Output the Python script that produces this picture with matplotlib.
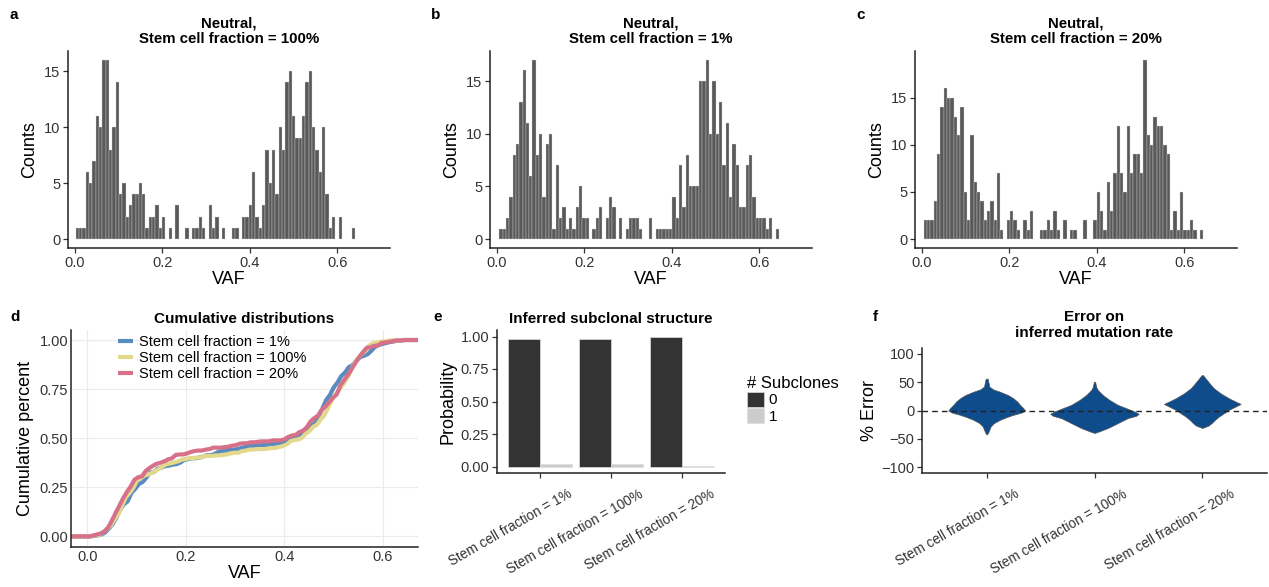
import numpy as np
import matplotlib
matplotlib.use("Agg")
import matplotlib.pyplot as plt
from matplotlib.transforms import ScaledTranslation

plt.rcParams['font.family'] = ['Liberation Sans', 'DejaVu Sans']

W, H = 1269, 587

bin_width = 0.0076
start_100 = 0.0023
start_1 = 0.006
start_20 = 0.0046
counts_100 = [1, 1, 1, 6, 5, 7, 11, 10, 16, 16, 8, 10, 14, 4, 5, 2, 3, 4, 4, 5,
              4, 1, 2, 2, 3, 1, 2, 0, 1, 0, 3, 0, 0, 1, 0, 1, 1, 2, 1, 0,
              3, 1, 2, 0, 1, 0, 0, 1, 1, 0, 2, 2, 3, 6, 2, 1, 3, 8, 5, 8,
              4, 10, 8, 14, 15, 11, 9, 9, 11, 14, 15, 10, 8, 6, 10, 4, 1, 2, 0, 2,
              0, 0, 0, 1]
counts_1 = [1, 1, 2, 4, 8, 9, 13, 16, 11, 6, 17, 8, 10, 4, 9, 10, 1, 7, 2, 3,
            1, 2, 1, 3, 5, 2, 2, 0, 1, 2, 3, 0, 2, 4, 3, 0, 2, 0, 1, 2,
            2, 2, 1, 0, 0, 2, 0, 1, 1, 1, 1, 1, 4, 2, 7, 3, 8, 5, 5, 5,
            15, 15, 17, 10, 15, 10, 13, 7, 11, 4, 9, 7, 3, 3, 7, 8, 4, 2, 2, 2,
            1, 2, 0, 1]
counts_20 = [2, 2, 2, 4, 9, 14, 16, 15, 15, 13, 11, 14, 5, 2, 11, 6, 5, 4, 2, 3,
             4, 2, 7, 1, 0, 2, 3, 2, 1, 0, 2, 1, 3, 0, 0, 1, 1, 2, 1, 3,
             1, 0, 2, 0, 1, 1, 0, 0, 2, 0, 0, 2, 5, 3, 1, 6, 3, 7, 12, 7,
             5, 12, 7, 9, 9, 7, 19, 11, 10, 13, 12, 12, 10, 9, 1, 3, 1, 5, 1, 1,
             2, 1, 0, 1]

conditions = ["Stem cell fraction = 1%", "Stem cell fraction = 100%", "Stem cell fraction = 20%"]
ecdf_colors = ["#5a8bbf", "#e3d98c", "#d7718a"]

# panel e
prob_0 = [0.98, 0.98, 0.995]
prob_1 = [0.02, 0.02, 0.005]

# panel f: violin outlines (% error, half width in category units)
viol_1_y = [56, 51, 42, 37, 33, 27, 21.5, 15.7, 9.9, 4.1, 0, -3.5, -7.6, -11.6, -16.3, -22.1, -27.9, -33.7, -39.5, -42.4]
viol_1_w = [0.009, 0.015, 0.025, 0.062, 0.124, 0.2, 0.247, 0.284, 0.309, 0.34, 0.356, 0.325, 0.247, 0.186, 0.124, 0.068, 0.037, 0.025, 0.012, 0]
viol_100_y = [50.6, 41.9, 36, 27.3, 18.6, 9.9, 4.1, -1.7, -5.8, -9.3, -13.4, -19.2, -25, -30.8, -36.6, -39.5]
viol_100_w = [0.006, 0.015, 0.031, 0.077, 0.139, 0.216, 0.294, 0.371, 0.41, 0.387, 0.309, 0.247, 0.186, 0.124, 0.046, 0]
viol_20_y = [62.2, 56.4, 47.7, 39, 30.2, 21.5, 15.7, 11.6, 7, 1.2, -4.7, -10.5, -16.3, -22.1, -26.7, -30.8]
viol_20_w = [0.006, 0.031, 0.068, 0.108, 0.17, 0.247, 0.309, 0.356, 0.309, 0.247, 0.201, 0.155, 0.118, 0.087, 0.056, 0]

fig = plt.figure(figsize=(W / 100, H / 100), dpi=100)


def px_axes(l, t, r, b):
    return fig.add_axes([l / W, 1 - b / H, (r - l) / W, (b - t) / H])


def style(ax, tick_size=10.5):
    for s in ["top", "right"]:
        ax.spines[s].set_visible(False)
    for s in ["left", "bottom"]:
        ax.spines[s].set_linewidth(1.1)
        ax.spines[s].set_color("#222222")
    ax.tick_params(length=3.5, width=0.9, color="#333333", labelsize=tick_size,
                   labelcolor="#333333", pad=2)


def letter(x, y, s):
    fig.text(x / W, 1 - y / H, s, fontsize=11, fontweight="bold", ha="left", va="center")


# ---- top row: histograms
hist_panels = [
    ("a", (68, 51, 390, 248), counts_100, start_100, "Neutral,\nStem cell fraction = 100%"),
    ("b", (490, 51, 812, 248), counts_1, start_1, "Neutral,\nStem cell fraction = 1%"),
    ("c", (915, 51, 1237, 248), counts_20, start_20, "Neutral,\nStem cell fraction = 20%"),
]
for lab, box, counts, x0, title in hist_panels:
    ax = px_axes(*box)
    counts = np.array(counts)
    left = x0 + bin_width * np.arange(len(counts))
    keep = counts > 0
    ax.bar(left[keep], counts[keep], width=bin_width, align="edge",
           color="#595959", edgecolor="#d9d9d9", linewidth=0.25)
    ax.set_xlim(-0.015, 0.72)
    top = counts.max()
    ax.set_ylim(-0.05 * top, top * 1.05)
    ax.set_xticks([0, 0.2, 0.4, 0.6])
    ax.set_xticklabels(["0.0", "0.2", "0.4", "0.6"])
    ax.set_yticks([0, 5, 10, 15])
    style(ax)
    ax.set_xlabel("VAF", fontsize=13, labelpad=1)
    ax.set_ylabel("Counts", fontsize=13, labelpad=4)
    ax.set_title(title, fontsize=10.8, fontweight="bold", pad=6, linespacing=1.1)
    letter(box[0] - 59, 15, lab)

# ---- d: cumulative distributions
axd = px_axes(71, 330, 418, 547)
for cond, counts, x0, col in [(conditions[0], counts_1, start_1, ecdf_colors[0]),
                              (conditions[1], counts_100, start_100, ecdf_colors[1]),
                              (conditions[2], counts_20, start_20, ecdf_colors[2])]:
    counts = np.array(counts, dtype=float)
    edges = x0 + bin_width * np.arange(len(counts) + 1)
    cum = np.concatenate([[0], np.cumsum(counts) / counts.sum()])
    xs = np.concatenate([[-0.05], edges, [0.75]])
    ys = np.concatenate([[0], cum, [1]])
    axd.plot(xs, ys, color=col, lw=3, label=cond, solid_capstyle="butt")
axd.set_xlim(-0.033, 0.671)
axd.set_ylim(-0.054, 1.051)
axd.set_xticks([0, 0.2, 0.4, 0.6])
axd.set_xticklabels(["0.0", "0.2", "0.4", "0.6"])
axd.set_yticks([0, 0.25, 0.5, 0.75, 1.0])
axd.set_yticklabels(["0.00", "0.25", "0.50", "0.75", "1.00"])
axd.grid(True, color="#ebebeb", lw=0.8)
axd.set_axisbelow(True)
style(axd)
axd.tick_params(length=0)
axd.set_xlabel("VAF", fontsize=13, labelpad=1)
axd.set_ylabel("Cumulative percent", fontsize=13, labelpad=4)
axd.set_title("Cumulative distributions", fontsize=11, fontweight="bold", pad=5)
axd.legend(loc="upper left", bbox_to_anchor=(0.12, 1.005), frameon=False, fontsize=10.5,
           handlelength=1.0, handletextpad=0.4, labelspacing=0.15, borderaxespad=0)
letter(10, 317, "d")

xpos = np.arange(len(conditions))
shift = ScaledTranslation(0.28, -0.14, fig.dpi_scale_trans)


def rotated_labels(ax):
    for x, c in zip(xpos, conditions):
        ax.text(x, 0, c, transform=ax.get_xaxis_transform() + shift, rotation=30,
                rotation_mode="anchor", ha="right", va="top", fontsize=9.8, color="#333333")


# ---- e: inferred subclonal structure
axe = px_axes(497, 330, 725, 473)
axe.bar(xpos - 0.225, prob_0, width=0.45, color="#333333", edgecolor="#dddddd", linewidth=0.5, label="0")
axe.bar(xpos + 0.225, prob_1, width=0.45, color="#cccccc", edgecolor="#dddddd", linewidth=0.5, label="1")
axe.set_xlim(-0.6, 2.6)
axe.set_ylim(-0.05, 1.05)
axe.set_xticks(xpos)
axe.set_xticklabels([])
axe.set_yticks([0, 0.25, 0.5, 0.75, 1.0])
axe.set_yticklabels(["0.00", "0.25", "0.50", "0.75", "1.00"])
style(axe)
rotated_labels(axe)
axe.set_ylabel("Probability", fontsize=13, labelpad=3)
axe.set_title("Inferred subclonal structure", fontsize=11, fontweight="bold", pad=5)
leg = axe.legend(title="# Subclones", loc="upper left", bbox_to_anchor=(1.07, 0.72), frameon=False,
                 fontsize=11, title_fontsize=12, handlelength=1.1, handleheight=1.1,
                 handletextpad=0.3, labelspacing=0.05, borderaxespad=0)
leg._legend_box.align = "left"
letter(433, 317, "e")

# ---- f: error on inferred mutation rate
axf = px_axes(922, 348, 1267, 473)
for x, vy, vw in zip(xpos, [viol_1_y, viol_100_y, viol_20_y], [viol_1_w, viol_100_w, viol_20_w]):
    vy = np.array(vy)
    vw = np.array(vw)
    axf.fill_betweenx(vy, x - vw, x + vw, color="#0f4c8c", edgecolor="#555555", linewidth=0.5)
axf.axhline(0, color="#222222", lw=1, ls=(0, (4, 3)))
axf.set_xlim(-0.6, 2.6)
axf.set_ylim(-110, 110)
axf.set_xticks(xpos)
axf.set_xticklabels([])
axf.set_yticks([-100, -50, 0, 50, 100])
style(axf)
rotated_labels(axf)
axf.set_ylabel("% Error", fontsize=13, labelpad=2)
axf.set_title("Error on\ninferred mutation rate", fontsize=11, fontweight="bold", pad=8, linespacing=1.15)
letter(873, 317, "f")

fig.savefig("out.png", dpi=100)
